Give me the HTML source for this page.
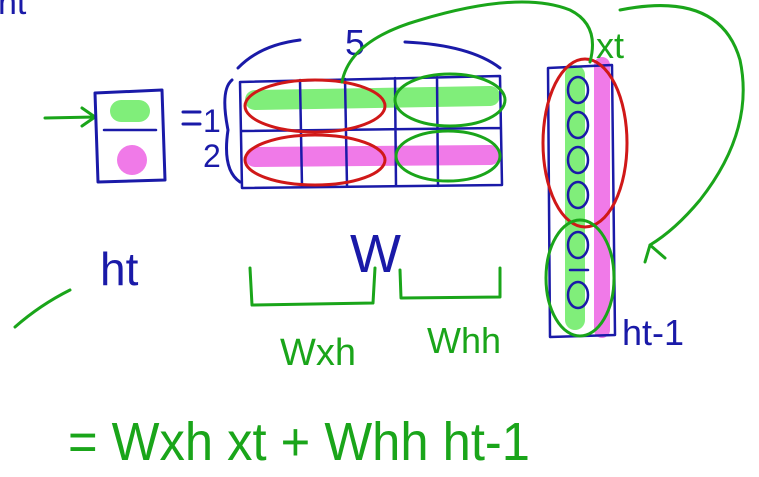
<!DOCTYPE html>
<html><head><meta charset="utf-8">
<style>
html,body{margin:0;padding:0;background:#fff;width:759px;height:477px;overflow:hidden}
svg{display:block}
text{font-family:"Liberation Sans",sans-serif}
</style></head>
<body>
<svg width="759" height="477" viewBox="0 0 759 477">
<g fill="none" stroke-linecap="round" stroke-linejoin="round">
  <text x="-2" y="14" font-size="34" fill="#1a1aa8">ht</text>
  <path d="M45 118 L95 117 M82 108 L95 117 L82 126" stroke="#1aa51a" stroke-width="3"/>
  <path d="M95 93 L162 90 L165 180 L98 182 Z" stroke="#1a1aa8" stroke-width="3"/>
  <rect x="110" y="100" width="40" height="22" rx="11" fill="#80ee7a" stroke="none"/>
  <path d="M104 130 L156 130" stroke="#1a1aa8" stroke-width="2.5"/>
  <circle cx="132" cy="160" r="15" fill="#f07ae8"/>
  <path d="M183 112 L200 112 M183 124 L200 124" stroke="#1a1aa8" stroke-width="3"/>
  <text x="203" y="132" font-size="32" fill="#1a1aa8">1</text>
  <text x="203" y="167" font-size="32" fill="#1a1aa8">2</text>
  <path d="M232 80 Q220 90 228 130 Q222 170 240 182" stroke="#1a1aa8" stroke-width="3"/>
  <text x="345" y="55" font-size="36" fill="#1a1aa8">5</text>
  <path d="M238 68 Q260 45 300 40 M405 42 Q470 45 500 68" stroke="#1a1aa8" stroke-width="3"/>
  <path d="M255 100 L490 96" stroke="#80ee7a" stroke-width="20"/>
  <path d="M255 157 L490 155" stroke="#f07ae8" stroke-width="20"/>
  <path d="M240 82 L500 76 L502 185 L242 188 Z M242 131 L500 128 M300 80 L302 186 M345 79 L347 186 M395 78 L396 186 M437 77 L438 186" stroke="#1a1aa8" stroke-width="2.5"/>
  <ellipse cx="315" cy="106" rx="70" ry="26" stroke="#d01818" stroke-width="3"/>
  <ellipse cx="315" cy="160" rx="70" ry="25" stroke="#d01818" stroke-width="3"/>
  <ellipse cx="450" cy="100" rx="55" ry="26" stroke="#1aa51a" stroke-width="3"/>
  <ellipse cx="448" cy="156" rx="52" ry="25" stroke="#1aa51a" stroke-width="3"/>
  <path d="M575 75 L575 320" stroke="#80ee7a" stroke-width="20"/>
  <path d="M602 65 L602 330" stroke="#f07ae8" stroke-width="16"/>
  <path d="M548 68 L612 65 L615 335 L550 337 Z" stroke="#1a1aa8" stroke-width="2.5"/>
  <g stroke="#1a1aa8" stroke-width="2.5">
    <ellipse cx="578" cy="90" rx="10" ry="13"/><ellipse cx="578" cy="125" rx="10" ry="13"/>
    <ellipse cx="578" cy="160" rx="10" ry="13"/><ellipse cx="578" cy="195" rx="10" ry="13"/>
    <ellipse cx="578" cy="245" rx="10" ry="13"/><ellipse cx="578" cy="295" rx="10" ry="13"/>
    <path d="M570 270 L588 270"/>
  </g>
  <ellipse cx="585" cy="143" rx="42" ry="84" stroke="#d01818" stroke-width="3"/>
  <ellipse cx="580" cy="278" rx="34" ry="58" stroke="#1aa51a" stroke-width="3"/>
  <path d="M342 82 Q350 40 420 20 Q520 -10 570 10 Q600 25 590 62" stroke="#1aa51a" stroke-width="3"/>
  <path d="M620 10 Q720 -10 740 60 Q755 130 700 200 Q675 230 650 245 L665 258 L650 245 L645 262" stroke="#1aa51a" stroke-width="3"/>
  <text x="596" y="58" font-size="36" fill="#1aa51a">xt</text>
  <text x="100" y="285" font-size="46" fill="#1a1aa8">ht</text>
  <text x="350" y="272" font-size="54" fill="#1a1aa8">W</text>
  <text x="622" y="345" font-size="36" fill="#1a1aa8">ht-1</text>
  <path d="M250 268 L252 305 L373 303 L375 268" stroke="#1aa51a" stroke-width="3"/>
  <path d="M400 270 L401 298 L500 297 L500 268" stroke="#1aa51a" stroke-width="3"/>
  <text x="280" y="365" font-size="38" fill="#1aa51a">Wxh</text>
  <text x="427" y="353" font-size="36" fill="#1aa51a">Whh</text>
  <path d="M15 327 Q40 305 70 290" stroke="#1aa51a" stroke-width="3"/>
  <text x="68" y="460" font-size="54" textLength="462" lengthAdjust="spacingAndGlyphs" fill="#1aa51a">= Wxh xt + Whh ht-1</text>
</g>
</svg>
</body></html>
